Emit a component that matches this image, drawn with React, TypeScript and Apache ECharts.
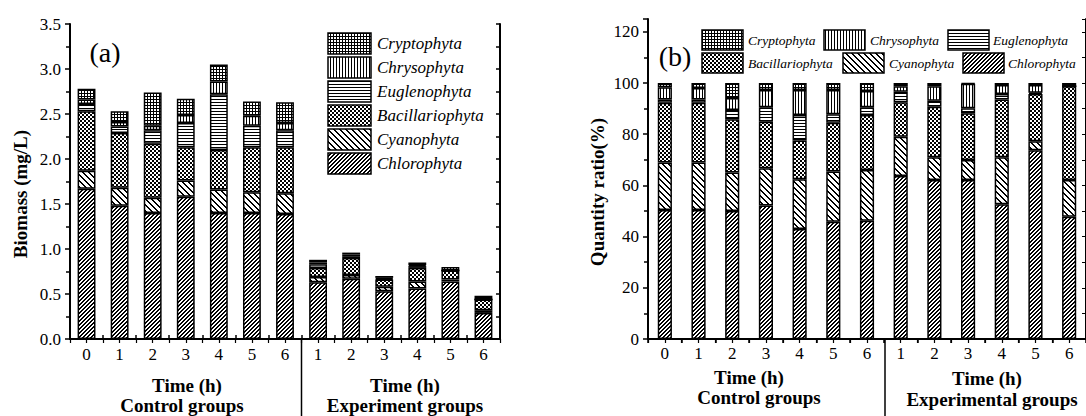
import React, { useEffect, useRef } from "react";
import * as echarts from "echarts";

const categories = ["0", "1", "2", "3", "4", "5", "6", "1", "2", "3", "4", "5", "6"];
const seriesNames = ["Chlorophyta", "Cyanophyta", "Bacillariophyta", "Euglenophyta", "Chrysophyta", "Cryptophyta"];

// Panel (a) biomass, mg/L
const chloroA = [1.67, 1.48, 1.40, 1.58, 1.40, 1.40, 1.39, 0.63, 0.67, 0.53, 0.56, 0.64, 0.29];
const cyanoA = [0.20, 0.20, 0.17, 0.18, 0.26, 0.23, 0.23, 0.06, 0.04, 0.05, 0.08, 0.02, 0.03];
const bacillA = [0.66, 0.61, 0.60, 0.37, 0.44, 0.50, 0.51, 0.10, 0.19, 0.08, 0.15, 0.10, 0.12];
const euglA = [0.08, 0.07, 0.15, 0.27, 0.62, 0.24, 0.19, 0.04, 0.02, 0.01, 0.02, 0.00, 0.00];
const chrysoA = [0.05, 0.05, 0.05, 0.09, 0.14, 0.11, 0.08, 0.02, 0.02, 0.01, 0.01, 0.00, 0.00];
const cryptoA = [0.12, 0.12, 0.37, 0.18, 0.19, 0.16, 0.23, 0.03, 0.02, 0.02, 0.03, 0.04, 0.04];

// Panel (b) quantity ratio, %
const chloroB = [50.4, 50.4, 50.0, 52.1, 43.0, 45.8, 46.2, 63.7, 62.1, 62.1, 52.6, 73.7, 47.8];
const cyanoB = [18.5, 18.5, 15.0, 14.6, 19.4, 19.6, 19.8, 15.3, 8.9, 7.8, 18.4, 3.5, 14.3];
const bacillB = [23.4, 23.4, 20.8, 18.2, 15.1, 19.1, 21.5, 13.5, 19.7, 18.3, 22.6, 18.5, 36.6];
const euglB = [1.3, 1.3, 3.7, 5.6, 10.0, 3.3, 3.0, 4.1, 2.4, 1.9, 2.1, 0.5, 0.0];
const chrysoB = [4.7, 4.4, 4.6, 6.8, 9.8, 9.5, 6.4, 2.1, 5.6, 9.6, 3.5, 3.0, 0.0];
const cryptoB = [1.7, 2.0, 5.9, 2.7, 2.7, 2.7, 3.1, 1.3, 1.3, 0.3, 0.8, 0.8, 1.3];

const yTicksA = { min: 0, max: 3.5, interval: 0.5 };
const yTicksB = { min: 0, max: 125, interval: 20 };

const FONT = "'Liberation Serif', 'Times New Roman', serif";

function makePattern(kind: string) {
  const size = kind === "cyano" ? 6 : kind === "eugl" || kind === "chryso" || kind === "crypto" ? 3 : 4;
  const c = document.createElement("canvas");
  c.width = size;
  c.height = size;
  const ctx = c.getContext("2d")!;
  ctx.fillStyle = "#fff";
  ctx.fillRect(0, 0, size, size);
  ctx.fillStyle = "#000";
  for (let y = 0; y < size; y++) {
    for (let x = 0; x < size; x++) {
      let on = false;
      if (kind === "chloro") on = (x + y) % 4 === 3 || (x + y) % 4 === 0;
      else if (kind === "cyano") on = ((x - y + 12) % 6 === 0) || ((x - y + 12) % 6 === 1);
      else if (kind === "bacill") on = ((Math.floor(x / 2) + Math.floor(y / 2)) % 2 === 0);
      else if (kind === "eugl") on = y === 0;
      else if (kind === "chryso") on = x === 0;
      else if (kind === "crypto") on = x === 0 || y === 0;
      if (on) ctx.fillRect(x, y, 1, 1);
    }
  }
  return { image: c, repeat: "repeat", imageWidth: size, imageHeight: size };
}

export default function App() {
  const ref = useRef<HTMLDivElement>(null);
  useEffect(() => {
    if (!ref.current) return;
    const chart = echarts.init(ref.current, undefined, { renderer: "svg" });
    const pats: Record<string, any> = {
      Chlorophyta: makePattern("chloro"),
      Cyanophyta: makePattern("cyano"),
      Bacillariophyta: makePattern("bacill"),
      Euglenophyta: makePattern("eugl"),
      Chrysophyta: makePattern("chryso"),
      Cryptophyta: makePattern("crypto"),
    };
    const dataA = [chloroA, cyanoA, bacillA, euglA, chrysoA, cryptoA];
    const dataB = [chloroB, cyanoB, bacillB, euglB, chrysoB, cryptoB];

    const axisLine = { show: true, lineStyle: { color: "#000", width: 2 } };
    const label = { color: "#000", fontFamily: FONT, fontSize: 17 };

    const series: any[] = [];
    seriesNames.forEach((n, i) => {
      series.push({
        name: n, type: "bar", stack: "a", xAxisIndex: 0, yAxisIndex: 0,
        barWidth: "54%", data: dataA[i],
        itemStyle: { color: pats[n], borderColor: "#000", borderWidth: 1.5 },
      });
      series.push({
        name: n, type: "bar", stack: "b", xAxisIndex: 2, yAxisIndex: 2,
        barWidth: "42%", data: dataB[i],
        itemStyle: { color: pats[n], borderColor: "#000", borderWidth: 1.5 },
      });
    });

    const graphic: any[] = [];
    const txt = (x: number, y: number, text: string, font: string, align = "center", rotation = 0) => ({
      type: "text", x, y, rotation,
      style: { text, font, fill: "#000", align, verticalAlign: "middle", textAlign: align, textVerticalAlign: "middle" },
    });
    const bold = `bold 19px ${FONT}`;
    graphic.push(txt(105, 52, "(a)", `28px ${FONT}`));
    graphic.push(txt(675, 56, "(b)", `28px ${FONT}`));
    graphic.push(txt(20, 194, "Biomass (mg/L)", bold, "center", Math.PI / 2));
    graphic.push(txt(597, 192, "Quantity ratio(%)", bold, "center", Math.PI / 2));
    graphic.push(txt(187, 385, "Time (h)", bold));
    graphic.push(txt(182, 405, "Control groups", bold));
    graphic.push(txt(405, 385, "Time (h)", bold));
    graphic.push(txt(405, 405, "Experiment groups", bold));
    graphic.push(txt(749, 377, "Time (h)", bold));
    graphic.push(txt(759, 397, "Control groups", bold));
    graphic.push(txt(987, 378, "Time (h)", bold));
    graphic.push(txt(992, 399, "Experimental groups", bold));
    graphic.push({ type: "line", shape: { x1: 301.5, y1: 339, x2: 301.5, y2: 416 }, style: { stroke: "#000", lineWidth: 1.5 } });
    graphic.push({ type: "line", shape: { x1: 885, y1: 339, x2: 885, y2: 416 }, style: { stroke: "#000", lineWidth: 1.5 } });

    // legend (a)
    const legOrder = ["Cryptophyta", "Chrysophyta", "Euglenophyta", "Bacillariophyta", "Cyanophyta", "Chlorophyta"];
    legOrder.forEach((n, i) => {
      const y0 = 33 + 24 * i;
      graphic.push({ type: "rect", shape: { x: 328, y: y0, width: 43, height: 21 }, style: { fill: pats[n], stroke: "#000", lineWidth: 1.5 } });
      graphic.push(txt(377, y0 + 10.5, n, `italic 17px ${FONT}`, "left"));
    });
    // legend (b)
    const legB = [
      { n: "Cryptophyta", bx: 702, tx: 748, y: 30 },
      { n: "Chrysophyta", bx: 824, tx: 870, y: 30 },
      { n: "Euglenophyta", bx: 948, tx: 993, y: 30 },
      { n: "Bacillariophyta", bx: 702, tx: 748, y: 53 },
      { n: "Cyanophyta", bx: 843, tx: 889, y: 53 },
      { n: "Chlorophyta", bx: 963, tx: 1008, y: 53 },
    ];
    legB.forEach((l) => {
      graphic.push({ type: "rect", shape: { x: l.bx, y: l.y, width: 41, height: 20 }, style: { fill: pats[l.n], stroke: "#000", lineWidth: 1.5 } });
      graphic.push(txt(l.tx, l.y + 10, l.n, `italic 13.5px ${FONT}`, "left"));
    });

    chart.setOption({
      animation: false,
      backgroundColor: "#fff",
      grid: [
        { left: 70, top: 24, width: 430, height: 315 },
        { left: 648, top: 19, width: 440, height: 320 },
      ],
      xAxis: [
        {
          type: "category", gridIndex: 0, data: categories, position: "bottom",
          axisLine, axisTick: { show: true, inside: true, length: 4, lineStyle: { color: "#000", width: 1.5 } },
          axisLabel: { ...label, interval: 0, margin: 7 }, splitLine: { show: false },
        },
        {
          type: "value", gridIndex: 0, position: "top", min: 0, max: 26, interval: 1,
          axisLine, axisTick: { show: true, inside: true, length: 4, lineStyle: { color: "#000", width: 1.2 } },
          axisLabel: { show: false }, splitLine: { show: false },
        },
        {
          type: "category", gridIndex: 1, data: categories, position: "bottom",
          axisLine, axisTick: { show: true, inside: false, length: 4, lineStyle: { color: "#000", width: 1.5 } },
          axisLabel: { ...label, interval: 0, margin: 6 }, splitLine: { show: false },
        },
        {
          type: "value", gridIndex: 1, position: "top", min: 0, max: 26, interval: 1,
          axisLine, axisTick: { show: true, inside: true, length: 4, lineStyle: { color: "#000", width: 1.2 } },
          axisLabel: { show: false }, splitLine: { show: false },
        },
      ],
      yAxis: [
        {
          type: "value", gridIndex: 0, ...yTicksA, position: "left",
          axisLine, axisTick: { show: true, inside: false, length: 5, lineStyle: { color: "#000", width: 1.5 } },
          minorTick: { show: true, splitNumber: 2, length: 4, lineStyle: { color: "#000", width: 1.5 } },
          axisLabel: { ...label, margin: 9, formatter: (v: number) => v.toFixed(1) }, splitLine: { show: false },
        },
        {
          type: "value", gridIndex: 0, min: 0, max: 3.5, interval: 0.25, position: "right",
          axisLine, axisTick: { show: true, inside: true, length: 4, lineStyle: { color: "#000", width: 1.5 } },
          axisLabel: { show: false }, splitLine: { show: false },
        },
        {
          type: "value", gridIndex: 1, ...yTicksB, position: "left",
          axisLine, axisTick: { show: true, inside: false, length: 5, lineStyle: { color: "#000", width: 1.5 } },
          minorTick: { show: true, splitNumber: 2, length: 4, lineStyle: { color: "#000", width: 1.5 } },
          axisLabel: { ...label, margin: 9, showMaxLabel: false }, splitLine: { show: false },
        },
        {
          type: "value", gridIndex: 1, min: 0, max: 125, interval: 10, position: "right",
          axisLine, axisTick: { show: true, inside: true, length: 4 },
          axisLabel: { show: false }, splitLine: { show: false },
        },
      ],
      series,
      graphic,
    });
    return () => chart.dispose();
  }, []);
  return <div ref={ref} style={{ position: "absolute", left: 0, top: 0, width: 1086, height: 416 }} />;
}
